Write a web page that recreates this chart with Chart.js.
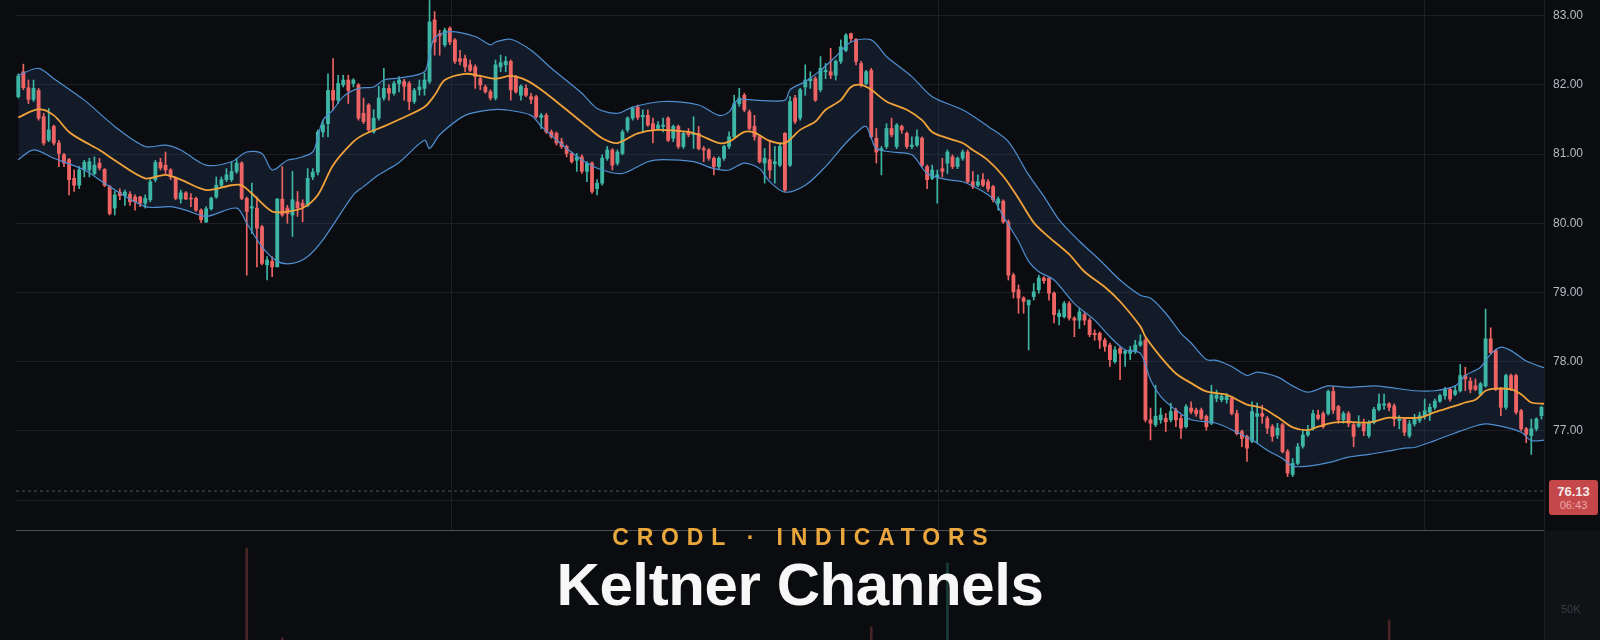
<!DOCTYPE html>
<html lang="en">
<head>
  <meta charset="UTF-8">
  <title>Keltner Channels</title>
  <script src="https://cdn.jsdelivr.net/npm/chart.js@4.4.1/dist/chart.umd.min.js"></script>
  <style>
    html, body {
      margin: 0;
      padding: 0;
      background: #0b0c0f;
      overflow: hidden;
    }
    #wrap {
      position: relative;
      width: 1600px;
      height: 640px;
      background: #0b0c0f;
      font-family: 'Liberation Sans', Arial, sans-serif;
    }
    #priceCanvas { position: absolute; left: 0; top: 0; }
    #volCanvas { position: absolute; left: 0; top: 531px; }
    .axis-col {
      position: absolute;
      left: 1544px;
      top: 531px;
      width: 56px;
      height: 109px;
      background: #111216;
      border-left: 1px solid #1c1e23;
    }
    .pane-sep {
      position: absolute;
      left: 16px;
      top: 530px;
      width: 1528px;
      height: 1px;
      background: #4c4f57;
    }
    .last-price {
      position: absolute;
      left: 1549px;
      top: 480px;
      width: 49px;
      height: 35px;
      background: #c5474a;
      border-radius: 3px;
      text-align: center;
    }
    .last-price .val {
      display: block;
      margin-top: 5px;
      font-size: 13px;
      line-height: 14px;
      font-weight: 700;
      color: #f3e9e9;
    }
    .last-price .time {
      display: block;
      font-size: 11px;
      line-height: 13px;
      color: #eaa7a6;
    }
    .kicker {
      position: absolute;
      left: 0;
      top: 526px;
      width: 1600px;
      box-sizing: border-box;
      padding-left: 7.8px;
      text-align: center;
      font: 700 23px/23px 'Liberation Sans', Arial, sans-serif;
      letter-spacing: 7.8px;
      color: #e9a73d;
    }
    .title {
      position: absolute;
      left: 0;
      top: 555px;
      width: 1600px;
      text-align: center;
      font: 700 60px/60px 'Liberation Sans', Arial, sans-serif;
      letter-spacing: -0.4px;
      color: #f7f7f7;
    }
  </style>
</head>
<body>
  <div id="wrap">
    <div class="axis-col"></div>
    <canvas id="priceCanvas" width="1600" height="531"></canvas>
    <canvas id="volCanvas" width="1600" height="109"></canvas>
    <div class="pane-sep"></div>
    <div class="last-price"><span class="val">76.13</span><span class="time">06:43</span></div>
    <div class="kicker">CRODL · INDICATORS</div>
    <div class="title">Keltner Channels</div>
  </div>

  <script>
    // candles, one per bar (index 0 = leftmost)
    const openPrices = [
      81.83, 82.19, 81.96, 81.79, 81.92, 81.54, 81.20, 81.40, 81.16, 80.99,
      80.92, 80.65, 80.55, 80.77, 80.77, 80.72, 80.87, 80.78, 80.53, 80.22,
      80.45, 80.40, 80.42, 80.38, 80.38, 80.29, 80.34, 80.63, 80.88, 80.84,
      80.77, 80.65, 80.35, 80.44, 80.36, 80.36, 80.19, 80.02, 80.21, 80.38,
      80.55, 80.63, 80.63, 80.75, 80.87, 80.36, 80.22, 80.22, 79.95, 79.40,
      79.45, 79.37, 80.35, 80.22, 80.12, 80.31, 80.29, 80.26, 80.67, 80.74,
      81.32, 81.44, 81.92, 81.78, 82.00, 82.07, 82.02, 82.00, 81.59, 81.71,
      81.32, 81.52, 81.81, 81.95, 81.88, 82.02, 82.05, 82.02, 81.76, 81.93,
      81.95, 82.05, 82.94, 82.74, 82.58, 82.82, 82.65, 82.38, 82.38, 82.29,
      82.26, 82.09, 81.97, 81.90, 81.81, 82.26, 82.29, 82.34, 82.12, 81.85,
      81.95, 81.83, 81.83, 81.53, 81.56, 81.32, 81.30, 81.18, 81.11, 81.01,
      80.91, 80.96, 80.75, 80.87, 80.50, 80.58, 80.94, 81.06, 80.87, 81.01,
      81.35, 81.52, 81.68, 81.54, 81.56, 81.44, 81.37, 81.40, 81.52, 81.23,
      81.40, 81.11, 81.32, 81.28, 81.30, 81.08, 81.06, 80.94, 80.82, 80.94,
      81.11, 81.25, 81.73, 81.85, 81.61, 81.40, 81.25, 80.87, 80.92, 80.86,
      80.84, 81.30, 80.84, 81.81, 81.52, 81.97, 82.06, 82.09, 81.93, 82.19,
      82.19, 82.14, 82.34, 82.50, 82.74, 82.66, 82.31, 82.02, 82.21, 81.23,
      81.06, 81.11, 81.37, 81.11, 81.40, 81.30, 81.11, 81.13, 81.23, 80.82,
      80.65, 80.67, 80.79, 80.87, 80.96, 80.82, 80.94, 81.03, 80.60, 80.55,
      80.63, 80.60, 80.53, 80.29, 80.32, 80.02, 79.25, 79.04, 78.92, 78.82,
      78.94, 79.04, 79.21, 79.21, 78.99, 78.65, 78.65, 78.84, 78.63, 78.60,
      78.68, 78.60, 78.41, 78.41, 78.31, 78.24, 78.00, 78.19, 78.12, 78.12,
      78.15, 78.24, 78.31, 77.16, 77.09, 77.16, 77.18, 77.16, 77.30, 77.18,
      77.06, 77.33, 77.30, 77.30, 77.21, 77.11, 77.47, 77.45, 77.45, 77.47,
      77.25, 76.99, 76.92, 76.85, 77.21, 77.25, 77.18, 77.06, 76.94, 77.09,
      76.70, 76.37, 76.53, 76.78, 76.94, 77.04, 77.23, 77.25, 77.25, 77.57,
      77.35, 77.16, 77.25, 77.09, 77.07, 77.10, 76.93, 77.12, 77.31, 77.37,
      77.39, 77.36, 77.15, 77.17, 76.93, 77.10, 77.15, 77.22, 77.27, 77.34,
      77.43, 77.51, 77.60, 77.53, 77.58, 77.80, 77.72, 77.65, 77.53, 77.65,
      78.33, 78.16, 77.60, 77.34, 77.80, 77.80, 77.29, 77.03, 76.93, 77.03,
      77.22, 77.34
    ];
    const highPrices = [
      82.16, 82.30, 82.07, 82.07, 81.95, 81.59, 81.66, 81.42, 81.20, 81.01,
      80.94, 80.77, 80.82, 80.91, 80.94, 80.96, 80.94, 80.79, 80.55, 80.46,
      80.50, 80.48, 80.46, 80.41, 80.39, 80.41, 80.63, 80.91, 80.94, 81.03,
      80.79, 80.67, 80.48, 80.46, 80.43, 80.38, 80.21, 80.24, 80.38, 80.67,
      80.67, 80.79, 80.89, 80.94, 80.89, 80.38, 80.58, 80.38, 79.97, 79.52,
      79.52, 80.36, 80.82, 80.26, 80.75, 80.46, 80.34, 80.79, 80.79, 81.35,
      81.49, 82.16, 82.38, 82.14, 82.14, 82.14, 82.09, 82.02, 81.81, 81.73,
      81.64, 81.98, 82.24, 82.00, 82.05, 82.12, 82.08, 82.05, 81.95, 82.07,
      82.17, 83.22, 83.06, 82.79, 82.82, 82.84, 82.67, 82.50, 82.43, 82.36,
      82.29, 82.14, 82.00, 81.93, 82.36, 82.43, 82.41, 82.36, 82.14, 82.00,
      82.00, 81.88, 81.85, 81.59, 81.59, 81.35, 81.32, 81.23, 81.13, 81.03,
      81.01, 80.99, 80.89, 80.89, 80.63, 80.99, 81.11, 81.08, 81.06, 81.35,
      81.54, 81.68, 81.71, 81.64, 81.64, 81.52, 81.47, 81.52, 81.54, 81.42,
      81.42, 81.32, 81.37, 81.54, 81.40, 81.11, 81.08, 80.96, 80.96, 81.13,
      81.32, 81.85, 81.95, 81.88, 81.64, 81.56, 81.28, 81.08, 81.20, 81.11,
      81.16, 81.31, 81.83, 81.85, 81.95, 82.29, 82.19, 82.12, 82.41, 82.31,
      82.53, 82.36, 82.65, 82.74, 82.75, 82.67, 82.34, 82.21, 82.24, 81.37,
      81.11, 81.44, 81.52, 81.44, 81.42, 81.32, 81.25, 81.35, 81.25, 80.84,
      80.84, 80.77, 80.94, 81.06, 80.99, 80.96, 81.06, 81.06, 80.75, 80.70,
      80.72, 80.63, 80.55, 80.38, 80.34, 80.05, 79.28, 79.11, 78.94, 78.89,
      79.13, 79.25, 79.23, 79.21, 79.01, 78.75, 78.87, 78.87, 78.65, 78.77,
      78.72, 78.63, 78.46, 78.43, 78.34, 78.27, 78.22, 78.22, 78.17, 78.22,
      78.31, 78.39, 78.34, 77.33, 77.66, 77.33, 77.25, 77.40, 77.33, 77.23,
      77.38, 77.42, 77.33, 77.33, 77.23, 77.66, 77.59, 77.54, 77.54, 77.50,
      77.30, 77.01, 76.94, 77.42, 77.40, 77.37, 77.21, 77.09, 77.11, 77.11,
      76.73, 76.60, 76.82, 77.01, 77.08, 77.30, 77.30, 77.28, 77.59, 77.64,
      77.37, 77.28, 77.28, 77.11, 77.22, 77.17, 77.15, 77.34, 77.53, 77.53,
      77.41, 77.39, 77.22, 77.19, 77.15, 77.24, 77.27, 77.46, 77.39, 77.46,
      77.53, 77.63, 77.63, 77.65, 77.96, 77.92, 77.77, 77.75, 77.70, 78.76,
      78.49, 78.18, 77.63, 77.82, 77.82, 77.82, 77.31, 77.05, 77.17, 77.19,
      77.36, 77.36
    ];
    const lowPrices = [
      81.81, 81.93, 81.73, 81.76, 81.49, 81.13, 81.18, 81.13, 80.82, 80.82,
      80.41, 80.46, 80.50, 80.67, 80.67, 80.70, 80.77, 80.53, 80.12, 80.12,
      80.34, 80.26, 80.26, 80.19, 80.24, 80.22, 80.31, 80.60, 80.77, 80.70,
      80.63, 80.34, 80.29, 80.34, 80.24, 80.17, 80.01, 80.01, 80.19, 80.36,
      80.53, 80.60, 80.60, 80.72, 80.34, 79.25, 79.85, 79.37, 79.40, 79.18,
      79.23, 79.37, 80.10, 80.00, 79.81, 80.10, 80.02, 80.24, 80.63, 80.70,
      81.25, 81.25, 81.64, 81.73, 81.97, 81.73, 81.97, 81.49, 81.44, 81.32,
      81.30, 81.49, 81.78, 81.78, 81.85, 81.90, 81.78, 81.64, 81.73, 81.85,
      81.85, 82.02, 82.43, 82.43, 82.55, 82.58, 82.31, 82.29, 82.19, 82.19,
      81.95, 81.93, 81.88, 81.78, 81.78, 82.19, 82.19, 81.78, 81.88, 81.78,
      81.83, 81.73, 81.52, 81.37, 81.30, 81.23, 81.13, 81.08, 80.96, 80.87,
      80.75, 80.72, 80.60, 80.43, 80.41, 80.55, 80.91, 80.77, 80.84, 80.99,
      81.32, 81.49, 81.50, 81.32, 81.40, 81.16, 81.35, 81.32, 81.18, 81.18,
      81.08, 81.08, 81.25, 81.08, 81.06, 80.89, 80.91, 80.70, 80.79, 80.91,
      81.08, 81.23, 81.69, 81.61, 81.35, 81.20, 80.87, 80.58, 80.65, 80.58,
      80.82, 80.46, 80.82, 81.44, 81.49, 81.85, 81.95, 81.76, 81.90, 82.09,
      82.09, 82.07, 82.31, 82.48, 82.62, 82.29, 81.97, 82.00, 81.23, 80.87,
      80.70, 81.08, 81.25, 81.08, 81.30, 81.08, 81.08, 81.11, 80.82, 80.50,
      80.63, 80.29, 80.67, 80.72, 80.79, 80.79, 80.91, 80.58, 80.50, 80.53,
      80.53, 80.46, 80.31, 80.19, 80.00, 79.18, 78.92, 78.70, 78.70, 78.17,
      78.89, 78.99, 79.13, 78.89, 78.56, 78.53, 78.63, 78.60, 78.36, 78.48,
      78.53, 78.36, 78.31, 78.19, 78.15, 77.93, 77.98, 77.74, 77.93, 78.03,
      78.12, 78.22, 77.13, 76.87, 77.06, 77.11, 76.99, 77.13, 77.06, 76.89,
      77.04, 77.25, 77.21, 77.16, 77.01, 77.09, 77.42, 77.42, 77.40, 77.23,
      76.94, 76.77, 76.56, 76.83, 76.83, 77.11, 76.96, 76.85, 76.89, 76.68,
      76.34, 76.34, 76.51, 76.75, 76.92, 77.01, 77.16, 77.04, 77.23, 77.25,
      77.11, 77.11, 77.06, 76.77, 77.05, 76.93, 76.90, 77.10, 77.29, 77.31,
      77.29, 77.07, 77.03, 76.93, 76.90, 77.07, 77.12, 77.17, 77.15, 77.31,
      77.41, 77.46, 77.43, 77.51, 77.56, 77.58, 77.55, 77.58, 77.51, 77.63,
      78.11, 77.58, 77.22, 77.31, 77.58, 77.24, 77.00, 76.83, 76.66, 77.00,
      77.17, 77.22
    ];
    const closePrices = [
      82.13, 81.96, 81.79, 81.95, 81.52, 81.16, 81.35, 81.16, 81.01, 80.87,
      80.63, 80.55, 80.77, 80.88, 80.89, 80.84, 80.80, 80.55, 80.14, 80.41,
      80.40, 80.45, 80.31, 80.31, 80.29, 80.36, 80.60, 80.88, 80.80, 80.77,
      80.67, 80.36, 80.44, 80.35, 80.35, 80.19, 80.05, 80.21, 80.36, 80.55,
      80.63, 80.70, 80.75, 80.87, 80.36, 80.17, 80.24, 79.93, 79.42, 79.47,
      79.37, 80.35, 80.12, 80.14, 80.34, 80.22, 80.24, 80.65, 80.74, 81.32,
      81.42, 81.92, 81.78, 82.02, 82.07, 81.92, 82.07, 81.52, 81.47, 81.35,
      81.52, 81.81, 81.95, 81.88, 82.02, 82.07, 81.98, 81.76, 81.92, 81.97,
      82.07, 82.91, 82.62, 82.71, 82.79, 82.62, 82.34, 82.34, 82.26, 82.21,
      82.12, 82.00, 81.90, 81.81, 82.29, 82.32, 82.34, 81.93, 81.90, 81.98,
      81.85, 81.79, 81.54, 81.56, 81.32, 81.25, 81.16, 81.11, 81.01, 80.89,
      80.96, 80.75, 80.87, 80.46, 80.58, 80.94, 81.06, 80.84, 81.03, 81.32,
      81.52, 81.66, 81.53, 81.56, 81.42, 81.35, 81.42, 81.42, 81.20, 81.40,
      81.11, 81.30, 81.28, 81.30, 81.08, 81.06, 80.94, 80.82, 80.94, 81.11,
      81.25, 81.73, 81.81, 81.64, 81.37, 81.25, 80.89, 80.94, 80.77, 80.89,
      81.11, 80.48, 81.76, 81.47, 81.93, 82.07, 82.09, 81.78, 82.24, 82.21,
      82.14, 82.34, 82.55, 82.72, 82.67, 82.34, 82.00, 82.19, 81.25, 81.03,
      81.08, 81.37, 81.28, 81.42, 81.35, 81.11, 81.13, 81.25, 80.84, 80.63,
      80.77, 80.70, 80.75, 81.03, 80.82, 80.94, 81.03, 80.60, 80.53, 80.60,
      80.55, 80.50, 80.34, 80.35, 80.02, 79.25, 79.01, 78.92, 78.87, 78.89,
      79.01, 79.21, 79.17, 78.99, 78.68, 78.70, 78.84, 78.63, 78.60, 78.72,
      78.60, 78.39, 78.39, 78.31, 78.22, 78.03, 78.17, 78.12, 78.15, 78.17,
      78.24, 78.29, 77.16, 77.11, 77.21, 77.23, 77.13, 77.28, 77.16, 77.04,
      77.35, 77.28, 77.25, 77.18, 77.06, 77.52, 77.52, 77.50, 77.50, 77.25,
      76.96, 76.89, 76.75, 77.28, 77.25, 77.21, 77.04, 76.92, 77.04, 76.70,
      76.39, 76.53, 76.77, 76.94, 76.99, 77.25, 77.18, 77.06, 77.57, 77.30,
      77.16, 77.25, 77.11, 76.92, 77.10, 77.00, 77.12, 77.31, 77.39, 77.39,
      77.34, 77.17, 77.17, 76.98, 77.10, 77.17, 77.22, 77.29, 77.34, 77.43,
      77.51, 77.60, 77.46, 77.58, 77.80, 77.75, 77.60, 77.60, 77.68, 78.33,
      78.13, 77.60, 77.34, 77.80, 77.60, 77.27, 77.03, 76.95, 77.03, 77.17,
      77.34, 77.24
    ];

    // Keltner bands: [bar index, price]
    const upperBand = [
      [0, 82.14], [4, 82.24], [7, 82.09], [13, 81.78], [19, 81.40], [25, 81.11],
      [29, 81.13], [32, 81.06], [37, 80.84], [42, 80.89], [45, 81.03], [48, 81.01],
      [50, 80.77], [53, 80.91], [55, 80.94], [58, 81.03], [59, 81.25], [60, 81.49],
      [62, 81.64], [64, 81.83], [67, 81.95], [70, 81.97], [72, 82.07], [75, 82.10],
      [80, 82.19], [81, 82.45], [82, 82.68], [85, 82.77], [90, 82.70], [93, 82.58],
      [94, 82.62], [97, 82.66], [101, 82.50], [105, 82.24], [111, 81.88], [114, 81.66],
      [118, 81.59], [121, 81.68], [127, 81.76], [134, 81.71], [138, 81.56], [140, 81.61],
      [141, 81.73], [142, 81.79], [145, 81.78], [151, 81.78], [152, 81.93], [155, 82.05],
      [158, 82.21], [161, 82.41], [164, 82.62], [168, 82.65], [171, 82.41], [176, 82.12],
      [180, 81.83], [186, 81.64], [191, 81.40], [195, 81.18], [199, 80.70], [202, 80.39],
      [205, 80.05], [209, 79.74], [213, 79.47], [217, 79.18], [221, 78.96], [223, 78.92],
      [226, 78.70], [229, 78.41], [231, 78.27], [234, 78.03], [236, 78.02], [239, 77.93],
      [242, 77.80], [244, 77.85], [248, 77.78], [251, 77.65], [254, 77.56], [258, 77.65],
      [262, 77.63], [267, 77.65], [270, 77.63], [275, 77.58], [279, 77.58], [283, 77.65],
      [285, 77.80], [288, 77.92], [290, 78.11], [292, 78.21], [294, 78.16], [297, 78.01],
      [301, 77.90]
    ];
    const middleLine = [
      [0, 81.53], [4, 81.65], [7, 81.56], [10, 81.32], [13, 81.18], [16, 81.06],
      [19, 80.91], [25, 80.65], [29, 80.70], [32, 80.63], [37, 80.48], [42, 80.55],
      [44, 80.55], [46, 80.43], [50, 80.17], [53, 80.17], [56, 80.22], [59, 80.41],
      [62, 80.84], [66, 81.18], [68, 81.28], [72, 81.40], [75, 81.50], [80, 81.68],
      [82, 81.85], [84, 82.07], [88, 82.16], [91, 82.13], [94, 82.09], [97, 82.13],
      [100, 82.07], [103, 81.93], [108, 81.64], [112, 81.40], [115, 81.23], [118, 81.16],
      [122, 81.30], [126, 81.35], [132, 81.32], [134, 81.28], [138, 81.16], [140, 81.18],
      [143, 81.32], [145, 81.31], [148, 81.19], [151, 81.16], [154, 81.35], [157, 81.47],
      [159, 81.64], [162, 81.78], [164, 81.97], [166, 82.00], [168, 81.93], [171, 81.76],
      [175, 81.64], [178, 81.49], [180, 81.32], [183, 81.23], [186, 81.16], [188, 81.06],
      [191, 80.91], [194, 80.68], [197, 80.36], [200, 80.01], [203, 79.80], [207, 79.55],
      [210, 79.30], [214, 79.08], [217, 78.87], [221, 78.51], [222, 78.36], [225, 78.07],
      [228, 77.83], [231, 77.69], [234, 77.57], [238, 77.52], [242, 77.38], [245, 77.33],
      [248, 77.20], [251, 77.05], [254, 77.01], [256, 77.06], [259, 77.12], [262, 77.13],
      [266, 77.12], [270, 77.19], [276, 77.19], [279, 77.27], [283, 77.36], [285, 77.41],
      [287, 77.45], [289, 77.58], [291, 77.61], [294, 77.60], [296, 77.53], [298, 77.41],
      [301, 77.39]
    ];
    const lowerBand = [
      [0, 80.92], [3, 81.06], [7, 80.94], [13, 80.77], [18, 80.53], [25, 80.24],
      [30, 80.24], [33, 80.19], [37, 80.10], [43, 80.22], [45, 80.00], [48, 79.66],
      [51, 79.45], [54, 79.42], [57, 79.52], [60, 79.76], [66, 80.41], [68, 80.53],
      [71, 80.70], [75, 80.88], [80, 81.20], [81, 81.08], [83, 81.28], [88, 81.56],
      [93, 81.64], [96, 81.64], [101, 81.56], [103, 81.40], [108, 81.08], [112, 80.87],
      [115, 80.77], [119, 80.72], [124, 80.89], [127, 80.92], [133, 80.89], [137, 80.79],
      [140, 80.77], [143, 80.87], [146, 80.79], [148, 80.60], [151, 80.45], [155, 80.55],
      [159, 80.82], [163, 81.16], [166, 81.37], [167, 81.40], [168, 81.23], [169, 81.08],
      [172, 81.03], [176, 80.99], [179, 80.72], [183, 80.63], [186, 80.60], [189, 80.50],
      [192, 80.35], [194, 80.10], [197, 79.74], [199, 79.45], [201, 79.30], [204, 79.18],
      [208, 78.84], [212, 78.60], [215, 78.36], [218, 78.17], [221, 78.12], [223, 77.74],
      [225, 77.50], [228, 77.30], [231, 77.16], [236, 77.11], [240, 76.98], [243, 76.87],
      [246, 76.72], [249, 76.60], [251, 76.49], [254, 76.49], [258, 76.54], [262, 76.62],
      [266, 76.66], [270, 76.71], [273, 76.75], [275, 76.76], [279, 76.86], [283, 76.97],
      [287, 77.07], [289, 77.10], [293, 77.05], [296, 76.98], [298, 76.86], [301, 76.87]
    ];

    // volume bars that show above the bottom edge
    const volumeIdx = [45, 52, 168, 183, 270];
    const volumeVal = [88750, 32500, 39400, 79400, 43800];

    const priceTicks = [76, 77, 78, 79, 80, 81, 82, 83];
    const volumeTicks = [50000];
    const timeGrid = [85.4, 181.2, 277.0];
    const lastPrice = 76.13;

    const xMin = -0.45, xMax = 300.5;
    const yMin = 75.553, yMax = 83.227;
    const volMin = 31250, volMax = 99375;

    const UP = '#3db6a6';
    const DOWN = '#ee6464';
    const GRID = '#1d1f25';

    const isUp = i => closePrices[i] >= openPrices[i];
    const candleColor = ctx => isUp(ctx.dataIndex) ? UP : DOWN;
    const toXY = arr => arr.map(([x, y]) => ({ x, y }));
    const bars = openPrices.map((_, i) => i);

    // keep the plot area flush with the canvas edges
    const noPad = s => { s.paddingTop = 0; s.paddingBottom = 0; s.paddingLeft = 0; s.paddingRight = 0; };

    const xScale = {
      type: 'linear',
      min: xMin,
      max: xMax,
      offset: false,
      grid: { color: GRID, offset: false, drawTicks: false },
      border: { display: false },
      ticks: { display: false },
      afterBuildTicks: s => { s.ticks = timeGrid.map(v => ({ value: v })); },
      afterFit: s => { s.height = 0; noPad(s); }
    };

    new Chart(document.getElementById('priceCanvas'), {
      type: 'bar',
      data: {
        datasets: [
          { type: 'line', data: toXY(upperBand), borderWidth: 0, pointRadius: 0, tension: 0.3,
            fill: 1, backgroundColor: 'rgba(46,80,126,0.22)', order: 10 },
          { type: 'line', data: toXY(lowerBand), borderWidth: 0, pointRadius: 0, tension: 0.3,
            fill: false, order: 10 },
          { data: bars.map(i => ({ x: i, y: [lowPrices[i], highPrices[i]] })),
            backgroundColor: candleColor, barThickness: 1, grouped: false, order: 6 },
          { data: bars.map(i => ({ x: i, y: [openPrices[i], closePrices[i]] })),
            backgroundColor: candleColor, barThickness: 3.2, minBarLength: 1, grouped: false, order: 5 },
          { type: 'line', data: [{ x: xMin, y: lastPrice }, { x: xMax, y: lastPrice }],
            borderColor: 'rgba(130,134,144,0.6)', borderWidth: 1, borderDash: [3, 3],
            pointRadius: 0, fill: false, order: 4 },
          { type: 'line', data: toXY(upperBand), borderColor: '#4f8fd1', borderWidth: 1.2,
            pointRadius: 0, tension: 0.3, fill: false, order: 2 },
          { type: 'line', data: toXY(lowerBand), borderColor: '#4f8fd1', borderWidth: 1.2,
            pointRadius: 0, tension: 0.3, fill: false, order: 2 },
          { type: 'line', data: toXY(middleLine), borderColor: '#f2a23a', borderWidth: 1.8,
            pointRadius: 0, tension: 0.3, fill: false, order: 1 }
        ]
      },
      options: {
        responsive: false,
        animation: false,
        layout: { padding: { left: 16, right: 0, top: 0, bottom: 0 } },
        plugins: { legend: { display: false }, tooltip: { enabled: false } },
        scales: {
          x: xScale,
          y: {
            position: 'right',
            min: yMin,
            max: yMax,
            beginAtZero: false,
            grid: { color: GRID, drawTicks: false },
            border: { display: true, color: '#1f2127' },
            ticks: {
              color: '#b6b9c1',
              font: { family: 'Liberation Sans', size: 12 },
              padding: 9,
              callback: v => v.toFixed(2)
            },
            afterBuildTicks: s => { s.ticks = priceTicks.map(v => ({ value: v })); },
            afterFit: s => { s.width = 56; noPad(s); }
          }
        }
      }
    });

    new Chart(document.getElementById('volCanvas'), {
      type: 'bar',
      data: {
        datasets: [{
          data: volumeIdx.map((x, k) => ({ x, y: volumeVal[k] })),
          backgroundColor: ctx => isUp(volumeIdx[ctx.dataIndex]) ? 'rgba(61,182,166,0.28)' : 'rgba(238,100,100,0.28)',
          barThickness: 2
        }]
      },
      options: {
        responsive: false,
        animation: false,
        layout: { padding: { left: 16, right: 0, top: 0, bottom: 0 } },
        plugins: { legend: { display: false }, tooltip: { enabled: false } },
        scales: {
          x: Object.assign({}, xScale, { grid: { display: false, offset: false } }),
          y: {
            position: 'right',
            min: volMin,
            max: volMax,
            grid: { display: false },
            border: { display: false },
            ticks: {
              color: '#3b3e46',
              font: { family: 'Liberation Sans', size: 11 },
              padding: 9,
              callback: v => (v / 1000) + 'K'
            },
            afterBuildTicks: s => { s.ticks = volumeTicks.map(v => ({ value: v })); },
            afterFit: s => { s.width = 56; noPad(s); }
          }
        }
      }
    });
  </script>
</body>
</html>
